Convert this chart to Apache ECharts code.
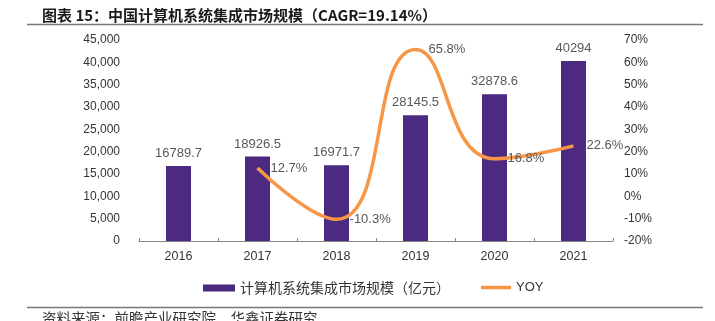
<!DOCTYPE html>
<html><head><meta charset="utf-8">
<script src="https://cdn.jsdelivr.net/npm/echarts@6/dist/echarts.min.js"></script>
<style>html,body{margin:0;padding:0;background:#fff}#c{width:715px;height:321px}</style>
</head><body><div id="c"></div>
<script>
const categories = ['2016','2017','2018','2019','2020','2021'];
const marketSize = [16789.7, 18926.5, 16971.7, 28145.5, 32878.6, 40294];
const yoy = [null, 12.7, -10.3, 65.8, 16.8, 22.6];
const titleText = '图表 15：中国计算机系统集成市场规模（CAGR=19.14%）';
const sourceText = '资料来源：前瞻产业研究院，华鑫证券研究';
const seriesNames = ['计算机系统集成市场规模（亿元）', 'YOY'];

const chart = echarts.init(document.getElementById('c'), null, {renderer:'canvas'});
const cjk = '"Noto Sans CJK SC", sans-serif';
const num = '"Liberation Sans", Arial, sans-serif';
chart.setOption({
  animation: false,
  title: [
    {text: titleText, left: 37, top: 3, textStyle: {fontFamily: cjk, fontSize: 15, fontWeight: 'bold', color: '#1a1a1a'}},
    {text: sourceText, left: 37, top: 306, textStyle: {fontFamily: cjk, fontSize: 14.5, fontWeight: 'normal', color: '#333'}}
  ],
  graphic: [
    {type: 'line', shape: {x1: 27, y1: 24.5, x2: 703, y2: 24.5}, style: {stroke: '#777', lineWidth: 1.5}},
    {type: 'line', shape: {x1: 27, y1: 307.5, x2: 703, y2: 307.5}, style: {stroke: '#777', lineWidth: 1.5}}
  ],
  legend: [
    {left: 198, top: 276, itemWidth: 32, itemHeight: 7, icon: 'rect',
     textStyle: {fontFamily: cjk, fontSize: 14, color: '#333'},
     data: [seriesNames[0]]},
    {left: 476, top: 276, itemWidth: 30, itemHeight: 3.5, icon: 'rect',
     textStyle: {fontFamily: num, fontSize: 13, color: '#333'},
     data: [seriesNames[1]]}
  ],
  grid: {left: 139, right: 102, top: 40, bottom: 80},
  xAxis: {
    type: 'category', data: categories,
    axisLine: {lineStyle: {color: '#868686', width: 1}},
    axisTick: {show: true, inside: true, length: 3, lineStyle: {color: '#868686'}},
    axisLabel: {color: '#333', fontFamily: num, fontSize: 12.5, margin: 9}
  },
  yAxis: [
    {type: 'value', min: 0, max: 45000, interval: 5000,
     splitLine: {show: false}, axisLine: {show: false}, axisTick: {show: false},
     axisLabel: {color: '#333', fontFamily: num, fontSize: 12, margin: 19,
       formatter: v => v.toLocaleString('en-US')}},
    {type: 'value', min: -20, max: 70, interval: 10,
     splitLine: {show: false}, axisLine: {show: false}, axisTick: {show: false},
     axisLabel: {color: '#333', fontFamily: num, fontSize: 12, margin: 11, formatter: '{value}%'}}
  ],
  series: [
    {name: seriesNames[0], type: 'bar', data: marketSize, barWidth: 25,
     itemStyle: {color: '#4B2A80'},
     label: {show: true, position: 'top', distance: 6, color: '#595959', fontFamily: num, fontSize: 13}},
    {name: seriesNames[1], type: 'line', yAxisIndex: 1, data: yoy, smooth: 0.5,
     showSymbol: true, symbol: 'circle', symbolSize: 0.1, connectNulls: false,
     lineStyle: {color: '#F79646', width: 3.5}, itemStyle: {color: '#F79646'},
     label: {show: true, position: 'right', distance: 13, color: '#595959', fontFamily: num, fontSize: 13, formatter: '{c}%'}}
  ]
});
</script></body></html>
